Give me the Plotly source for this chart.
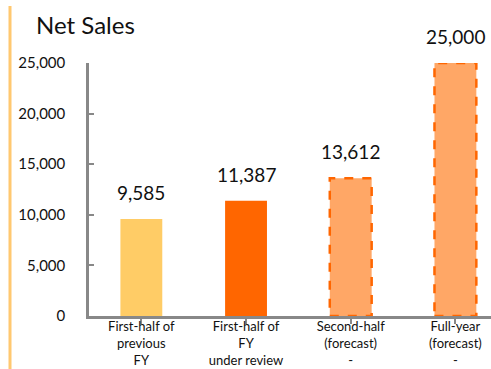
import plotly.graph_objects as go

categories = ["First-half of<br>previous<br>FY", "First-half of<br>FY<br>under review",
              "Second-half<br>(forecast)<br>-", "Full-year<br>(forecast)<br>-"]
values = [9585, 11387, 13612, 25000]
labels = ["9,585", "11,387", "13,612", "25,000"]
fill_colors = ["#FFCC66", "#FF6600", "#FFA766", "#FFA766"]
border_dashed = [False, False, True, True]
y_ticks = [0, 5000, 10000, 15000, 20000, 25000]
y_tick_text = ["0", "5,000", "10,000", "15,000", "20,000", "25,000"]

FONT = "Lato, 'Liberation Sans', sans-serif"
W, H = 491, 369
ML, MR, MT, MB = 89, 0, 63, 53

fig = go.Figure()
fig.add_trace(go.Bar(
    x=list(range(len(values))), y=values,
    width=0.4,
    marker=dict(color=fill_colors, line=dict(width=0)),
    hoverinfo="skip", showlegend=False,
))

# Dashed outlines for forecast bars
shapes = []
for i, (v, d) in enumerate(zip(values, border_dashed)):
    if d:
        shapes.append(dict(type="rect", xref="x", yref="y",
                           x0=i - 0.2, x1=i + 0.2, y0=0, y1=v,
                           line=dict(color="#FF6600", width=2.5, dash="dash"),
                           fillcolor="rgba(0,0,0,0)", layer="above"))

plot_w = W - ML - MR
plot_h = H - MT - MB
# orange side line
shapes.append(dict(type="line", xref="paper", yref="paper",
                   x0=(10 - ML) / plot_w, x1=(10 - ML) / plot_w,
                   y0=(H - 6 - MB) / plot_h, y1=-MB / plot_h,
                   line=dict(color="#FFC870", width=3)))

annotations = []
for i, (v, t) in enumerate(zip(values, labels)):
    annotations.append(dict(x=i, y=v, xref="x", yref="y", text=t, showarrow=False,
                            yanchor="bottom", yshift=13,
                            font=dict(family=FONT, size=19, color="#111111")))
annotations.append(dict(x=(34 - ML) / plot_w, y=(H - 24 - MB) / plot_h, xref="paper", yref="paper",
                        text="Net Sales", showarrow=False, xanchor="left", yanchor="middle",
                        font=dict(family=FONT, size=24, color="#111111")))

fig.update_layout(
    width=W, height=H,
    margin=dict(l=ML, r=MR, t=MT, b=MB, pad=0, autoexpand=False),
    plot_bgcolor="white", paper_bgcolor="white",
    shapes=shapes, annotations=annotations,
    bargap=0.6,
    xaxis=dict(range=[-0.5, 3.34], tickmode="array", tickvals=list(range(len(categories))),
               ticktext=categories, showgrid=False, zeroline=False, automargin=False,
               showline=True, linecolor="#888888", linewidth=2.5,
               ticks="outside", tickson="boundaries", ticklen=5, tickcolor="#888888", tickwidth=2,
               ticklabelstandoff=-8,
               tickfont=dict(family=FONT, size=13, color="#111111"), fixedrange=True),
    yaxis=dict(range=[0, 25000], tickmode="array", tickvals=y_ticks, ticktext=y_tick_text,
               showgrid=False, zeroline=False, showline=True, linecolor="#888888", linewidth=2.5,
               ticks="inside", ticklen=5, tickcolor="#888888", tickwidth=2, automargin=False,
               ticklabelstandoff=18,
               tickfont=dict(family=FONT, size=15, color="#111111"), fixedrange=True),
)

fig.write_html("out.html")
